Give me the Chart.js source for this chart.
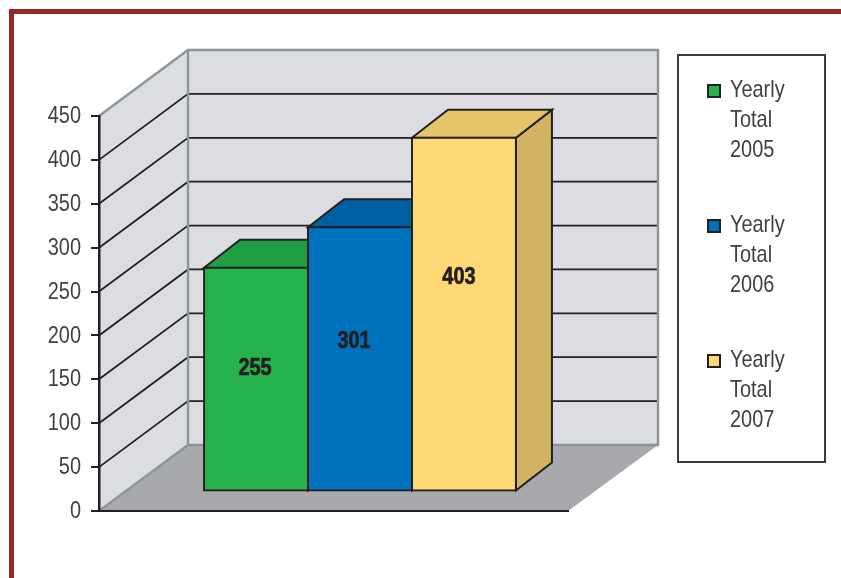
<!DOCTYPE html>
<html>
<head>
<meta charset="utf-8">
<title>Yearly Total</title>
<script src="https://cdn.jsdelivr.net/npm/chart.js@4/dist/chart.umd.min.js"></script>
<style>
  html, body { margin: 0; padding: 0; background: #fff; }
  canvas { display: block; }
</style>
</head>
<body>
<canvas id="totalsChart" width="841" height="578"></canvas>
<script>
// data
const categories = ["Yearly Total"];
const years = ["2005", "2006", "2007"];
const totals = [255, 301, 403];
const yMax = 450;
const yStep = 50;

const frontColors = ["#26b34d", "#0071bc", "#ffd975"];
const topColors = ["#1f9e44", "#005fa0", "#e6c46a"];
const sideColors = ["#1c8a3c", "#00548e", "#d2b362"];
const labelNudge = [[-1, -11], [-6, -18], [-5, -37]];

const FONT = '"Liberation Sans", sans-serif';
const INK = "#231f20";
const TEXT = "#414143";
const WALL_EDGE = "#8c959c";
const SQUEEZE = 0.83; // the original type is a condensed face

const wallDepth = { x: 89, y: -66 };
const barShift = { x: 26.5, y: -19.5 };
const barDepth = { x: 36, y: -28 };

function poly(ctx, pts, fill, stroke, width) {
  ctx.beginPath();
  pts.forEach((p, i) => i ? ctx.lineTo(p[0], p[1]) : ctx.moveTo(p[0], p[1]));
  ctx.closePath();
  if (fill) { ctx.fillStyle = fill; ctx.fill(); }
  if (stroke) { ctx.strokeStyle = stroke; ctx.lineWidth = width; ctx.lineJoin = "miter"; ctx.stroke(); }
}

// canvas text narrowed around its anchor
function narrowText(ctx, text, x, y, align, heavy) {
  ctx.save();
  ctx.translate(x, y);
  ctx.scale(SQUEEZE, 1);
  ctx.textAlign = align;
  ctx.textBaseline = "middle";
  ctx.fillText(text, 0, 0);
  if (heavy) {
    ctx.strokeStyle = ctx.fillStyle;
    ctx.lineWidth = 0.7;
    ctx.strokeText(text, 0, 0);
  }
  ctx.restore();
}

// red page frame, walls, floor and the grid that folds round the corner
const roomPlugin = {
  id: "room",
  beforeDraw(chart) {
    const { ctx, chartArea: a, scales: { y } } = chart;
    const dx = wallDepth.x, dy = wallDepth.y;
    ctx.save();
    ctx.fillStyle = "#8e2a27";
    ctx.fillRect(9, 9, 832, 5);
    ctx.fillRect(9, 9, 5, 569);

    const backL = a.left + dx, backR = a.right + dx + 1;
    poly(ctx, [[a.left, a.top], [backL, a.top + dy], [backL, a.bottom + dy], [a.left, a.bottom]], "#dcdde0");
    poly(ctx, [[backL, a.top + dy], [backR, a.top + dy], [backR, a.bottom + dy], [backL, a.bottom + dy]], "#dcdde0");
    poly(ctx, [[a.left, a.bottom], [backL, a.bottom + dy], [backR, a.bottom + dy], [a.right, a.bottom]], "#a7a9ac");

    y.ticks.forEach(t => {
      const py = y.getPixelForValue(t.value);
      if (t.value === 0 || t.value === yMax) return;
      ctx.beginPath();
      ctx.moveTo(a.left, py);
      ctx.lineTo(backL, py + dy);
      ctx.lineTo(backR, py + dy);
      ctx.strokeStyle = INK;
      ctx.lineWidth = 1.8;
      ctx.stroke();
    });

    ctx.beginPath();
    ctx.moveTo(a.left, a.top);
    ctx.lineTo(backL, a.top + dy);
    ctx.lineTo(backR, a.top + dy);
    ctx.lineTo(backR, a.bottom + dy);
    ctx.lineTo(backL, a.bottom + dy);
    ctx.lineTo(a.left, a.bottom);
    ctx.moveTo(backL, a.top + dy);
    ctx.lineTo(backL, a.bottom + dy);
    ctx.strokeStyle = WALL_EDGE;
    ctx.lineWidth = 2.4;
    ctx.stroke();
    ctx.restore();
  }
};

// pushes the real bars back onto the floor, adds their top and side faces and the value labels
const boxPlugin = {
  id: "box",
  beforeDatasetsDraw(chart) {
    const { ctx } = chart;
    ctx.save();
    ctx.translate(barShift.x, barShift.y);
    chart.data.datasets.forEach((ds, i) => {
      const bar = chart.getDatasetMeta(i).data[0];
      const l = bar.x - bar.width / 2, r = bar.x + bar.width / 2;
      const dx = barDepth.x, dy = barDepth.y;
      poly(ctx, [[r, bar.y], [r + dx, bar.y + dy], [r + dx, bar.base + dy], [r, bar.base]], sideColors[i], INK, 2);
      poly(ctx, [[l, bar.y], [l + dx, bar.y + dy], [r + dx, bar.y + dy], [r, bar.y]], topColors[i], INK, 2);
    });
  },
  afterDatasetsDraw(chart) {
    const { ctx } = chart;
    ctx.font = "bold 24px " + FONT;
    ctx.fillStyle = INK;
    chart.data.datasets.forEach((ds, i) => {
      const bar = chart.getDatasetMeta(i).data[0];
      const mid = (bar.y + bar.base) / 2;
      narrowText(ctx, String(ds.data[0]), bar.x + labelNudge[i][0], mid + labelNudge[i][1], "center", true);
    });
    ctx.restore();
  }
};

// y tick labels and the boxed legend on the right, one word per line
const textPlugin = {
  id: "textLayer",
  afterDraw(chart) {
    const { ctx, scales: { y } } = chart;
    ctx.save();
    ctx.font = "24px " + FONT;
    ctx.fillStyle = TEXT;
    y.ticks.forEach(t => {
      narrowText(ctx, String(t.value), 81, y.getPixelForValue(t.value) + 0.5, "right");
    });

    ctx.strokeStyle = "#3a3a3c";
    ctx.lineWidth = 2;
    ctx.strokeRect(678, 55, 147, 407);
    chart.data.datasets.forEach((ds, i) => {
      const top = 89 + i * 135;
      ctx.fillStyle = frontColors[i];
      ctx.strokeStyle = INK;
      ctx.lineWidth = 2;
      ctx.fillRect(708, top - 4, 12, 12);
      ctx.strokeRect(708, top - 4, 12, 12);
      ctx.fillStyle = TEXT;
      ds.label.split(" ").forEach((word, n) => narrowText(ctx, word, 730, top + 1 + n * 30, "left"));
    });
    ctx.restore();
  }
};

new Chart(document.getElementById("totalsChart"), {
  type: "bar",
  data: {
    labels: categories,
    datasets: years.map((year, i) => ({
      label: "Yearly Total " + year,
      data: [totals[i]],
      backgroundColor: frontColors[i],
      borderColor: INK,
      borderWidth: 2,
      borderSkipped: false,
      inflateAmount: 1,
      clip: false
    }))
  },
  options: {
    responsive: false,
    animation: false,
    devicePixelRatio: 1,
    layout: { padding: { left: 39, right: 273, top: 116, bottom: 67 } },
    datasets: { bar: { categoryPercentage: 0.665, barPercentage: 1 } },
    scales: {
      x: {
        grid: { display: false },
        ticks: { display: false },
        border: { color: INK, width: 2 },
        afterFit(scale) { scale.height = 0; }
      },
      y: {
        min: 0,
        max: yMax,
        afterFit(scale) { scale.width = 60; },
        grid: { drawOnChartArea: false, tickLength: 8, color: INK, lineWidth: 2 },
        border: { color: INK, width: 2.5 },
        ticks: { stepSize: yStep, display: false }
      }
    },
    plugins: { legend: { display: false }, tooltip: { enabled: false } }
  },
  plugins: [roomPlugin, boxPlugin, textPlugin]
});
</script>
</body>
</html>
